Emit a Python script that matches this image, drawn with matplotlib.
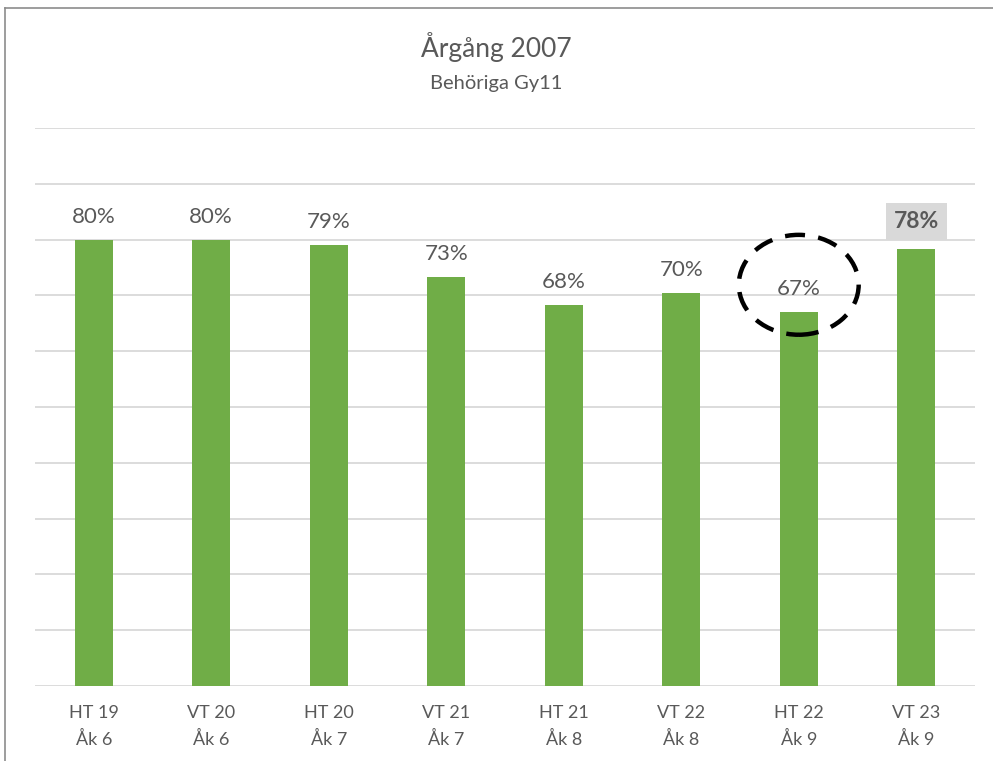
import numpy as np
import matplotlib.pyplot as plt
from matplotlib.patches import Ellipse
from matplotlib.lines import Line2D

# data
terms = ["HT 19", "VT 20", "HT 20", "VT 21", "HT 21", "VT 22", "HT 22", "VT 23"]
grades = ["Åk 6", "Åk 6", "Åk 7", "Åk 7", "Åk 8", "Åk 8", "Åk 9", "Åk 9"]
share = [80.0, 80.0, 79.1, 73.3, 68.3, 70.5, 67.1, 78.4]
labels = ["80%", "80%", "79%", "73%", "68%", "70%", "67%", "78%"]

plt.rcParams['font.family'] = ['Lato', 'DejaVu Sans']
txt = '#595959'
green = '#70ad47'

fig = plt.figure(figsize=(9.93, 7.61), dpi=100)
ax = fig.add_axes([35/993, 75/761, 940/993, 558/761])

x = np.arange(len(terms))
ax.bar(x, share, width=0.32, color=green, zorder=3)

ax.set_xlim(-0.5, len(terms) - 0.5)
ax.set_ylim(0, 100)
ax.set_yticks(np.arange(0, 101, 10))
ax.yaxis.grid(True, color='#d9d9d9', linewidth=1.3, zorder=0)
ax.tick_params(axis='y', left=False, labelleft=False)
ax.tick_params(axis='x', length=0, pad=14, labelsize=13, labelcolor=txt)
ax.set_xticks(x)
ax.set_xticklabels([t + "\n" + g for t, g in zip(terms, grades)], linespacing=1.65)
for s in ax.spines.values():
    s.set_visible(False)

for i, (v, lab) in enumerate(zip(share, labels)):
    if i == len(share) - 1:
        ax.annotate(lab, (i, v), xytext=(0, 12), textcoords='offset points',
                    ha='center', va='bottom', fontsize=16.5, fontweight='bold', color=txt,
                    bbox=dict(boxstyle='square,pad=0.35', fc='#d9d9d9', ec='none'))
    else:
        ax.annotate(lab, (i, v), xytext=(0, 9), textcoords='offset points',
                    ha='center', va='bottom', fontsize=16, color=txt)

# dashed ring around HT 22
ring = Ellipse((6, 71.9), 1.02, 17.9, fill=False, ec='black', lw=3.2,
               linestyle=(0, (4.5, 3)), zorder=5, clip_on=False)
ax.add_patch(ring)

fig.text(0.5, 1 - 47/761, "Årgång 2007", ha='center', va='center', fontsize=19, color=txt)
fig.text(0.5, 1 - 84/761, "Behöriga Gy11", ha='center', va='center', fontsize=14.5, color=txt)

# chart frame (left and top edges visible)
fig.add_artist(Line2D([5/993, 5/993], [0, 1 - 8/761], color='#8c8c8c', lw=1.2, transform=fig.transFigure))
fig.add_artist(Line2D([5/993, 1], [1 - 8/761, 1 - 8/761], color='#8c8c8c', lw=1.2, transform=fig.transFigure))

fig.savefig('out.png', dpi=100)
